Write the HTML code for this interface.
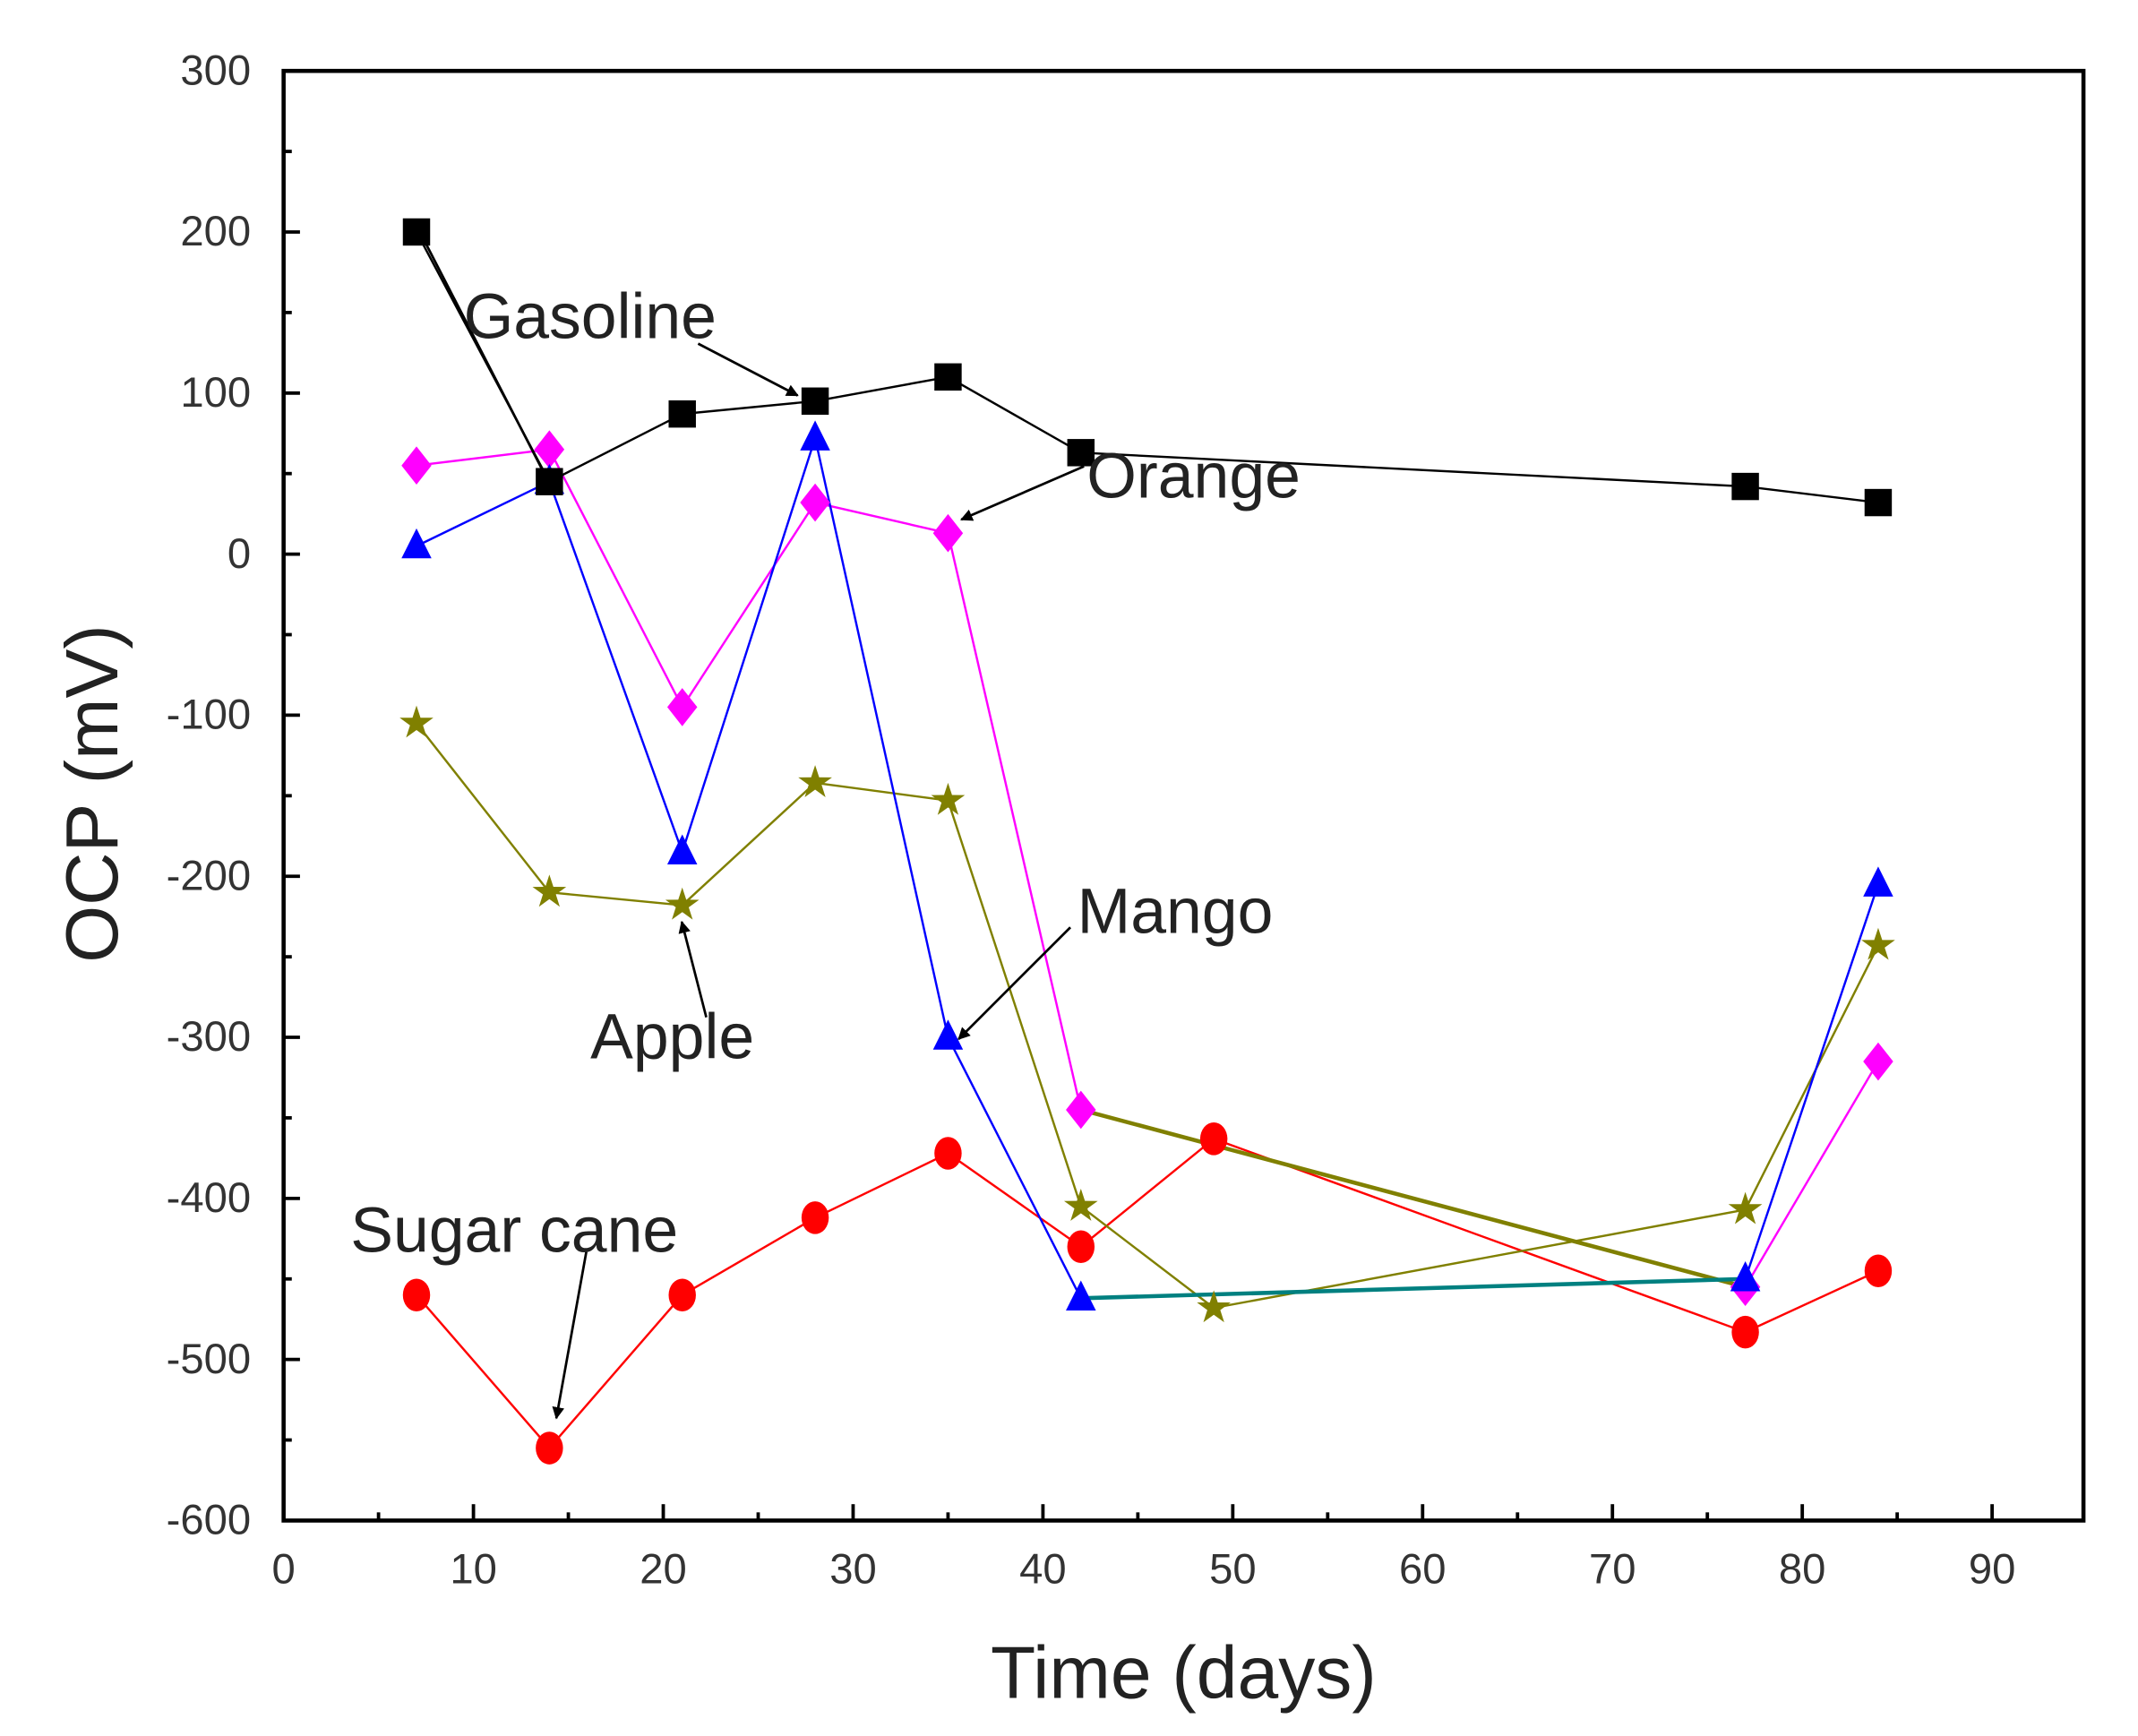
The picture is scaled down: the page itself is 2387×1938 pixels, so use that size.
<!DOCTYPE html>
<html><head><meta charset="utf-8"><style>
html,body{margin:0;padding:0;background:#fff;}
svg{display:block;}
text{font-family:"Liberation Sans",sans-serif;}
</style></head><body>
<svg id="chart" width="2387" height="1938" viewBox="0 0 1568 1273" preserveAspectRatio="none" xmlns="http://www.w3.org/2000/svg">
<defs><marker id="ah" viewBox="0 0 10 10" refX="9" refY="5" markerWidth="5" markerHeight="5" orient="auto"><path d="M0,0 L10,5 L0,10 z" fill="#000"/></marker></defs>
<g id="grid"></g>
<g id="series"></g>
<g id="annots"></g>
</svg>
<script>
const days = [7,14,21,28,35,42,49,77,84];
const gasoline = [200,45,87,95,110,63,null,42,32];
const orange = [55,65,-95,32,13,-345,null,-455,-315];
const mango = [5,45,-185,72,-300,-462,null,-450,-205];
const apple = [-105,-210,-218,-142,-153,-405,-468,-407,-243];
const sugarcane = [-460,-555,-460,-412,-372,-430,-363,-483,-445];
const xTicks = [0,10,20,30,40,50,60,70,80,90];
const yTicks = [300,200,100,0,-100,-200,-300,-400,-500,-600];

const L=208,R=1528,T=52,B=1115;
const xs = v => L + v*(1461-208)/90;
const ys = v => T + (300 - v)*(B-T)/900;
const NS="http://www.w3.org/2000/svg";
const svg=document.getElementById('chart');
function mk(tag,attrs,parent){const e=document.createElementNS(NS,tag);for(const k in attrs)e.setAttribute(k,attrs[k]);(parent||svg).appendChild(e);return e;}
const grid=document.getElementById('grid'), ser=document.getElementById('series'), ann=document.getElementById('annots');

let fr=mk('rect',{x:L,y:T,width:R-L,height:B-T,fill:'none',stroke:'#000','stroke-width':3},grid);


for(let v=5;v<95;v+=5){
  const major=v%10===0;
  const t=mk('line',{x1:xs(v),x2:xs(v),y1:B,y2:B-(major?12:6),stroke:'#000','stroke-width':2.5},grid);
  
  
}
for(let v=-550;v<300;v+=50){
  const major=v%100===0;
  const t=mk('line',{x1:L,x2:L+(major?12:6),y1:ys(v),y2:ys(v),stroke:'#000','stroke-width':2.5},grid);
  
  
}
xTicks.forEach(v=>{const t=mk('text',{x:xs(v),y:B+46,'text-anchor':'middle','font-size':31,fill:'#333'},grid);t.textContent=v;

});
yTicks.forEach(v=>{const t=mk('text',{x:184,y:ys(v)+10,'text-anchor':'end','font-size':31,fill:'#333'},grid);t.textContent=v;

});
let xt=mk('text',{x:868,y:1245,'text-anchor':'middle','font-size':54,fill:'#222'},grid);xt.textContent='Time (days)';


let yt=mk('text',{x:0,y:0,'text-anchor':'middle','font-size':54,fill:'#222',transform:'translate(86,582) rotate(-90)'},grid);yt.textContent='OCP (mV)';



function pts(vals){const p=[];vals.forEach((v,i)=>{if(v!==null)p.push([xs(days[i]),ys(v)]);});return p;}
function drawLine(p,color,w,segColors){
  for(let i=0;i<p.length-1;i++){
    const c=(segColors&&segColors[i])||color;
    const l=mk('line',{x1:p[i][0],y1:p[i][1],x2:p[i+1][0],y2:p[i+1][1],stroke:c,'stroke-width':(segColors&&segColors[i])?3:w},ser);
    
    
  }
}
function marker(type,x,y,color){
  let e;
  if(type==='square') e=mk('rect',{x:x-10,y:y-10,width:20,height:20,fill:color},ser);
  else if(type==='diamond') e=mk('polygon',{points:`${x},${y-14} ${x+11},${y} ${x},${y+14} ${x-11},${y}`,fill:color},ser);
  else if(type==='triangle') e=mk('polygon',{points:`${x},${y-13} ${x+11},${y+9} ${x-11},${y+9}`,fill:color},ser);
  else if(type==='circle') e=mk('ellipse',{cx:x,cy:y,rx:10,ry:12,fill:color},ser);
  else { let s='';for(let k=0;k<10;k++){const r=k%2?5:13;const a=-Math.PI/2+k*Math.PI/5;s+=`${x+r*Math.cos(a)},${y+r*Math.sin(a)} `;} e=mk('polygon',{points:s,fill:color},ser);}
  
  
}
const series=[
 [sugarcane,'#ff0000','circle',null],
 [apple,'#808000','star',null],
 [orange,'#ff00ff','diamond',[null,null,null,null,null,'#808000']],
 [mango,'#0000ff','triangle',[null,null,null,null,null,'#008080']],
 [gasoline,'#000000','square',null],
];
series.forEach(s=>{const p=pts(s[0]);drawLine(p,s[1],1.6,s[3]);});
series.forEach(s=>{pts(s[0]).forEach(q=>marker(s[2],q[0],q[1],s[1]));});

function arrow(x1,y1,x2,y2,head){const a=mk('line',{x1,y1,x2,y2,stroke:'#000','stroke-width':1.8},ann);if(head)a.setAttribute('marker-end','url(#ah)');

}
arrow(312,178,398,345,false);
arrow(512,252,585,290,true);
arrow(795,342,705,381,true);
arrow(785,680,703,762,true);
arrow(518,746,500,676,true);
arrow(430,918,408,1040,true);
const labels=[['Gasoline',340,248],['Orange',797,365],['Mango',790,684],['Apple',433,776],['Sugar cane',257,918]];
labels.forEach(l=>{const t=mk('text',{x:l[1],y:l[2],'font-size':47,fill:'#222'},ann);t.textContent=l[0];

});
</script>
</body></html>
